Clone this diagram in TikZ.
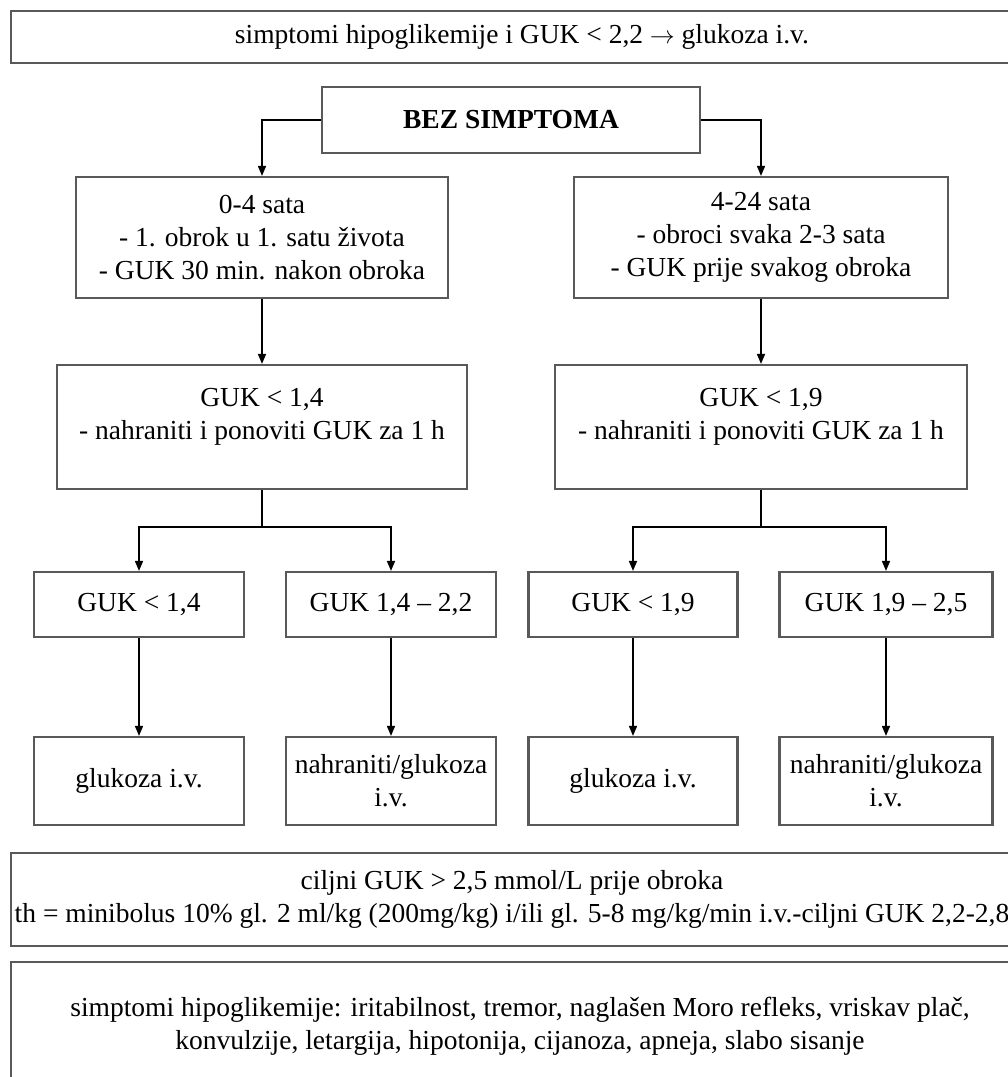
\documentclass[tikz,border=0pt]{standalone}
\usepackage{fontspec}
\setmainfont{Liberation Serif}
\usetikzlibrary{arrows.meta}

\begin{document}
\begin{tikzpicture}[x=1pt, y=-1pt, box/.style={draw=black!65, line width=2.2pt, align=center, inner sep=2pt, font=\fontsize{27.5}{33}\selectfont}, flow/.style={-{Triangle[length=10pt,width=8pt]}, line width=1.6pt}, link/.style={line width=1.6pt}, head/.style={font=\fontsize{27.5}{33}\selectfont\bfseries}]
\useasboundingbox (0,0) rectangle (1008,1077);

\node[box, minimum width=1022, minimum height=52] (top) at (522,37) {simptomi hipoglikemije i GUK < 2,2 $\rightarrow$ glukoza i.v.};
\node[box, head, minimum width=378, minimum height=66] (bez) at (511,120) {BEZ SIMPTOMA};

\node[box, minimum width=372, minimum height=121] (b1) at (262,237.5) {0-4 sata\\- 1. obrok u 1. satu života\\- GUK 30 min. nakon obroka};
\node[box, minimum width=374, minimum height=121] (b2) at (761,237.5) {4-24 sata\\- obroci svaka 2-3 sata\\- GUK prije svakog obroka};
\node[box, minimum width=410, minimum height=124] (m1) at (262,427) {GUK < 1,4\\- nahraniti i ponoviti GUK za 1 h\\[-16pt] \strut};
\node[box, minimum width=412, minimum height=124] (m2) at (761,427) {GUK < 1,9\\- nahraniti i ponoviti GUK za 1 h\\[-16pt] \strut};

\node[box, minimum width=210, minimum height=65] (c1) at (139,604.5) {GUK < 1,4}; \node[box, minimum width=210, minimum height=65] (c2) at (391,604.5) {GUK 1,4 -- 2,2};
\node[box, minimum width=209, minimum height=65] (c3) at (633,604.5) {GUK < 1,9}; \node[box, minimum width=213, minimum height=65] (c4) at (886,604.5) {GUK 1,9 -- 2,5};
\node[box, minimum width=210, minimum height=88] (d1) at (139,781) {glukoza i.v.}; \node[box, minimum width=210, minimum height=88] (d2) at (391,781) {nahraniti/glukoza\\i.v.};
\node[box, minimum width=209, minimum height=88] (d3) at (633,781) {glukoza i.v.}; \node[box, minimum width=213, minimum height=88] (d4) at (886,781) {nahraniti/glukoza\\i.v.};

\node[box, minimum width=1002, minimum height=93] (goal) at (512,899.5) {ciljni GUK > 2,5 mmol/L prije obroka\\th = minibolus 10\% gl. 2 ml/kg (200mg/kg) i/ili gl. 5-8 mg/kg/min i.v.-ciljni GUK 2,2-2,8};
\node[box, minimum width=1018, minimum height=129] (signs) at (520,1026.5) {simptomi hipoglikemije: iritabilnost, tremor, naglašen Moro refleks, vriskav plač,\\konvulzije, letargija, hipotonija, cijanoza, apneja, slabo sisanje};

% connectors
\draw[flow] (bez.west) -| (b1.north); \draw[flow] (bez.east) -| (b2.north);
\draw[flow] (b1) -- (m1); \draw[flow] (b2) -- (m2);
\coordinate (s1) at (262,527); \coordinate (s2) at (761,527);
\draw[link] (m1) -- (s1); \draw[flow] (s1) -| (c1.north); \draw[flow] (s1) -| (c2.north);
\draw[link] (m2) -- (s2); \draw[flow] (s2) -| (c3.north); \draw[flow] (s2) -| (c4.north);
\draw[flow] (c1) -- (d1); \draw[flow] (c2) -- (d2); \draw[flow] (c3) -- (d3); \draw[flow] (c4) -- (d4);
\end{tikzpicture}
\end{document}
